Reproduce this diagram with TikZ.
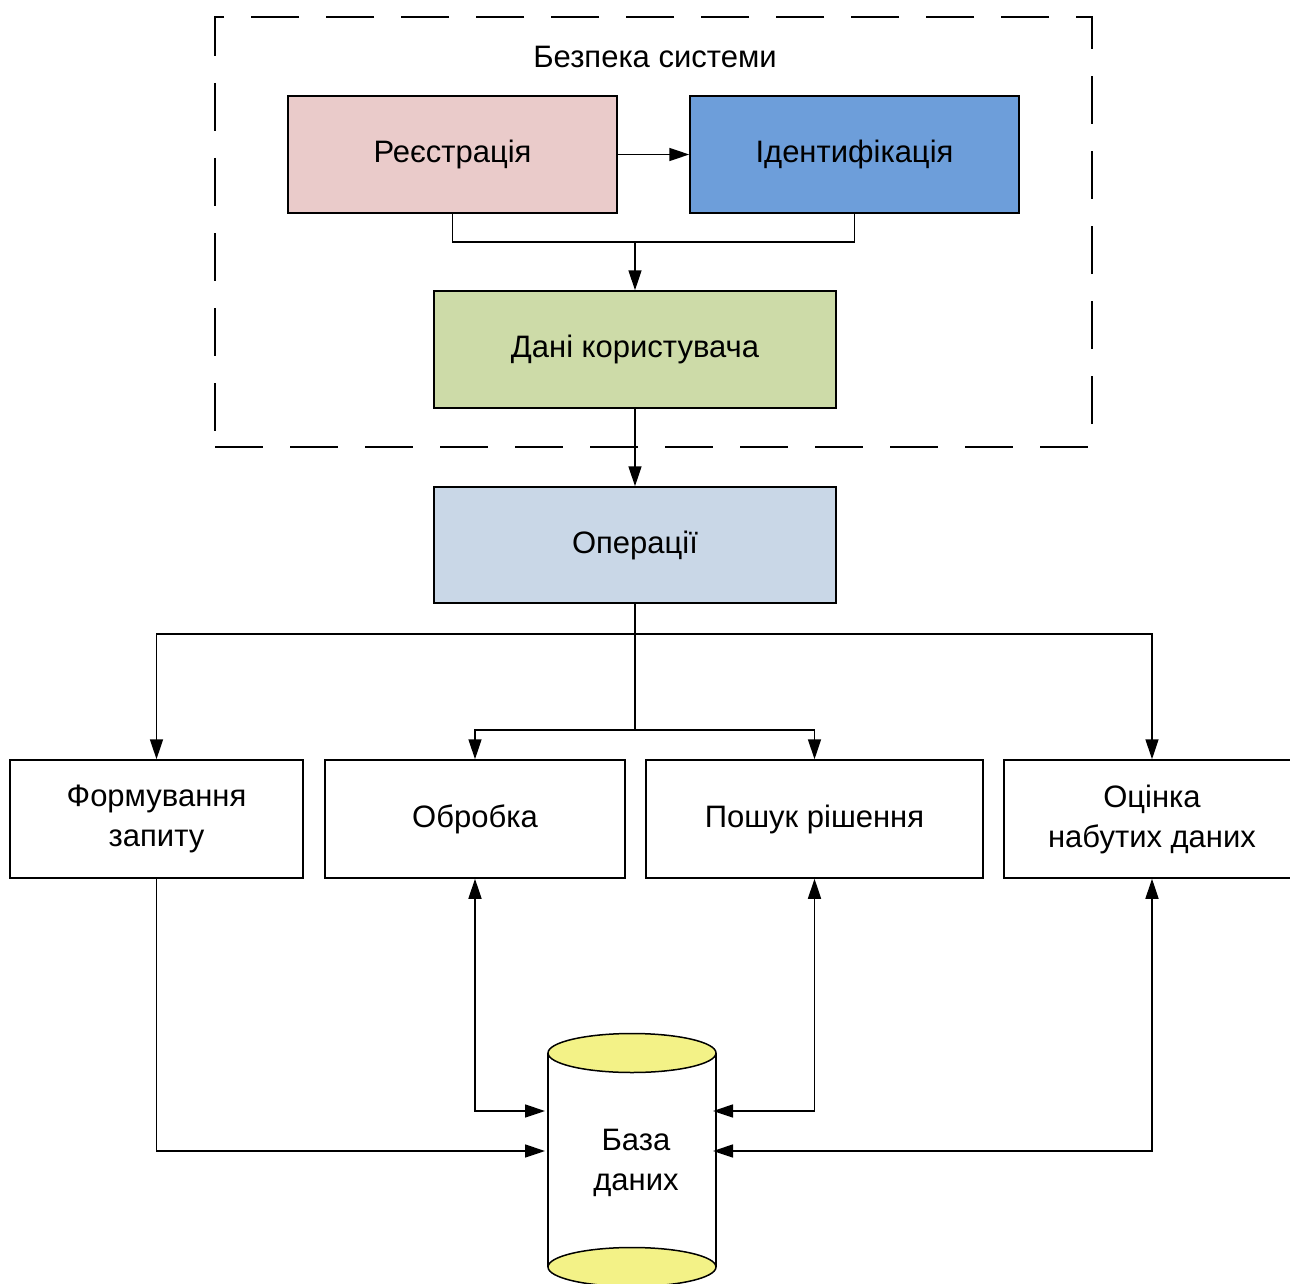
\documentclass[tikz,border=0pt]{standalone}
\usepackage{fontspec}
\setmainfont{Liberation Sans}
\usetikzlibrary{arrows.meta,calc}
\definecolor{regc}{HTML}{EACBCA}
\definecolor{idc}{HTML}{6D9EDA}
\definecolor{datac}{HTML}{CDDBA8}
\definecolor{opc}{HTML}{C9D7E7}
\definecolor{dbc}{HTML}{F3F287}
\newcommand\diafont{\fontsize{31}{40}\selectfont}
\begin{document}
\begin{tikzpicture}[x=1pt,y=-1pt,
  every node/.style={font=\diafont},
  box/.style={draw=black, line width=1.5pt, inner sep=0pt, align=center},
  conn/.style={line width=1.5pt},
  arr/.style={conn, -{Triangle[length=20pt,width=13pt]}},
  darr/.style={conn, {Triangle[length=20pt,width=13pt]}-{Triangle[length=20pt,width=13pt]}}]
\useasboundingbox (0,0) rectangle (1290,1284);
\clip (0,0) rectangle (1290,1284);
\fill[white] (0,0) rectangle (1290,1284);

% security frame
\draw[line width=2.8pt, dash pattern=on 48pt off 27pt]
  (215,447) -- (1092,447) -- (1092,17) -- (215,17) -- cycle;
\node (title) at (655,57) {Безпека системи};

\node[box, fill=regc, minimum width=329, minimum height=117] (reg) at (452.5,154.5) {Реєстрація};
\node[box, fill=idc, minimum width=329, minimum height=117] (ident) at (854.5,154.5) {Ідентифікація};
\node[box, fill=datac, minimum width=402, minimum height=117] (data) at (635,349.5) {Дані користувача};
\node[box, fill=opc, minimum width=402, minimum height=116] (ops) at (635,545) {Операції};

\node[box, minimum width=293, minimum height=118] (form) at (156.5,819) {Формування\\запиту};
\node[box, minimum width=300, minimum height=118] (proc) at (475,819) {Обробка};
\node[box, minimum width=337, minimum height=118] (search) at (814.5,819) {Пошук рішення};
\node[box, minimum width=296, minimum height=118] (eval) at (1152,819) {Оцінка\\набутих даних};

% database cylinder
\fill[white] (548,1053) rectangle (716,1267);
\draw[conn] (548,1053) -- (548,1267);
\draw[conn] (716,1053) -- (716,1267);
\draw[conn, fill=dbc] (632,1267) ellipse [x radius=84, y radius=19.5];
\draw[conn, fill=dbc] (632,1053) ellipse [x radius=84, y radius=19.5];
\node[align=center] (db) at (636,1163) {База\\даних};

% coordinates
\coordinate (j1) at (635,242);
\coordinate (j2) at (635,634);
\coordinate (j3) at (635,730);
\coordinate (dbL1) at (545,1111);
\coordinate (dbL2) at (545,1151);
\coordinate (dbR1) at (713,1111);
\coordinate (dbR2) at (713,1151);

% connectors
\draw[arr] (reg.east) -- (ident.west);
\draw[conn] (reg.south) |- (j1) -| (ident.south);
\draw[arr] (j1) -- (data.north);
\draw[arr] (data.south) -- (ops.north);
\draw[conn] (ops.south) -- (j2);
\draw[arr] (j2) -| (form.north);
\draw[arr] (j2) -| (eval.north);
\draw[conn] (j2) -- (j3);
\draw[arr] (j3) -| (proc.north);
\draw[arr] (j3) -| (search.north);

\draw[arr] (form.south) |- (dbL2);
\draw[darr] (proc.south) |- (dbL1);
\draw[darr] (search.south) |- (dbR1);
\draw[darr] (eval.south) |- (dbR2);
\end{tikzpicture}
\end{document}
